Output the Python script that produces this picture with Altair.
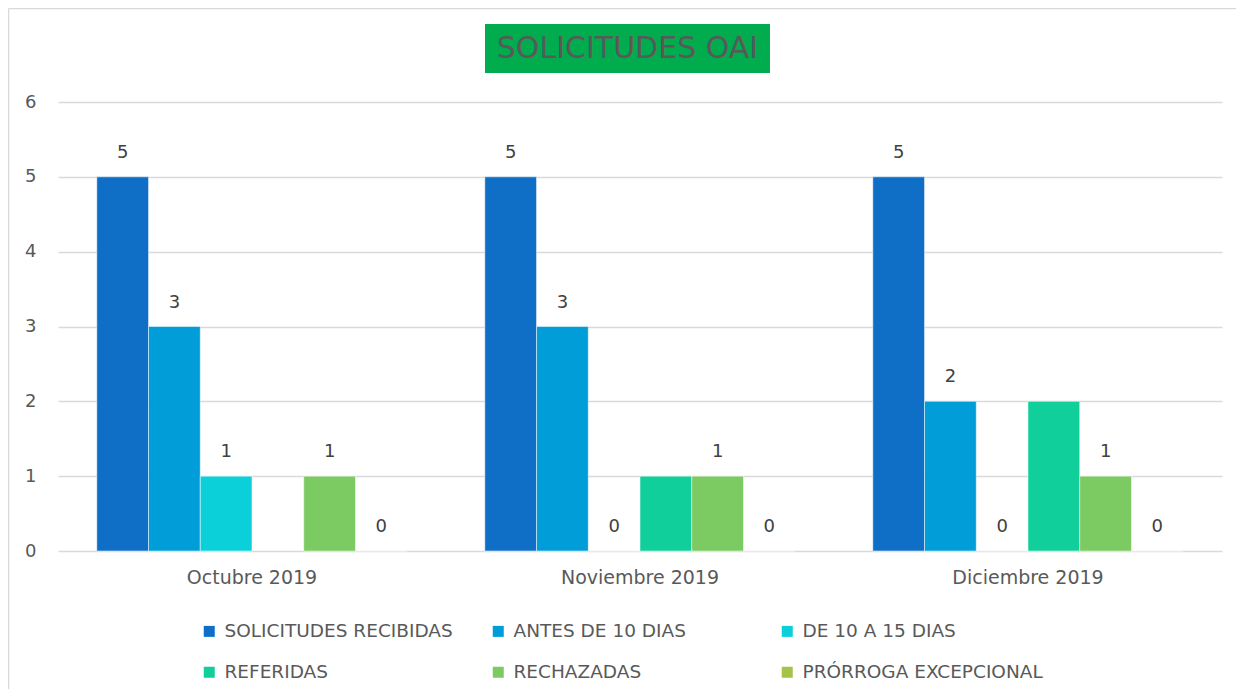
import altair as alt
import pandas as pd

months = ["Octubre 2019", "Noviembre 2019", "Diciembre 2019"]
series = ["SOLICITUDES RECIBIDAS", "ANTES DE 10 DIAS", " DE 10 A  15 DIAS",
          "REFERIDAS", "RECHAZADAS", "PRÓRROGA EXCEPCIONAL"]
colors = ["#0F6FC6", "#009DD9", "#0BD0D9", "#10CF9B", "#7CCA62", "#A5C249"]
solicitudes = [5, 5, 5]
antes10 = [3, 3, 2]
de10a15 = [1, 0, 0]
referidas = [None, 1, 2]
rechazadas = [1, 1, 1]
prorroga = [0, 0, 0]
labeled = [True, True, True, False, True, True]

vals = [solicitudes, antes10, de10a15, referidas, rechazadas, prorroga]
rows = []
for si, s in enumerate(series):
    for mi, m in enumerate(months):
        rows.append({"mes": m, "serie": s, "valor": vals[si][mi], "lab": labeled[si]})
df = pd.DataFrame(rows)

FONT = "DejaVu Sans"
GRAY = "#595959"

x = alt.X("mes:N", sort=months, title=None,
          scale=alt.Scale(paddingInner=0.2, paddingOuter=0.1),
          axis=alt.Axis(labelAngle=0, domain=False, ticks=False, labelFontSize=19,
                        labelColor=GRAY, labelFont=FONT, labelPadding=17))
xo = alt.XOffset("serie:N", sort=series, scale=alt.Scale(domain=series, paddingInner=0, paddingOuter=0))
y = alt.Y("valor:Q", title=None,
          scale=alt.Scale(domain=[0, 6]),
          axis=alt.Axis(values=[0, 1, 2, 3, 4, 5, 6], domain=False, ticks=False,
                        labelFontSize=18, labelColor=GRAY, labelFont=FONT, labelPadding=22,
                        gridColor="#d9d9d9", gridWidth=1.5))

bars = alt.Chart(df).mark_bar(stroke="white", strokeWidth=0.5).encode(
    x=x, xOffset=xo, y=y,
    color=alt.Color("serie:N", sort=series,
                    scale=alt.Scale(domain=series, range=colors),
                    legend=alt.Legend(title=None, orient="none", legendX=142, legendY=520,
                                      columns=3, gridAlign="all", columnPadding=24,
                                      rowPadding=22, symbolType="square", symbolSize=121,
                                      symbolStrokeWidth=0, labelFontSize=18.5, labelColor=GRAY,
                                      labelFont=FONT, labelOffset=6, labelLimit=400,
                                      direction="horizontal"))
).transform_filter("datum.valor != null")

texts = alt.Chart(df).mark_text(dy=-24, fontSize=18, color="#404040", font=FONT).encode(
    x=x, xOffset=xo, y=y, text=alt.Text("valor:Q")
).transform_filter("datum.lab && datum.valor != null")

one = pd.DataFrame({"a": [0]})
border_top = alt.Chart(one).mark_rule(color="#d9d9d9", strokeWidth=1.5).encode(
    x=alt.value(-49.5), x2=alt.value(1300), y=alt.value(-93.5))
border_left = alt.Chart(one).mark_rule(color="#d9d9d9", strokeWidth=1.5).encode(
    x=alt.value(-49.5), y=alt.value(-93.5), y2=alt.value(650))

tbox = alt.Chart(one).mark_rect(fill="#00AC4E").encode(
    x=alt.value(427), x2=alt.value(712), y=alt.value(-78), y2=alt.value(-29))
ttext = alt.Chart(pd.DataFrame({"t": ["SOLICITUDES OAI"]})).mark_text(
    fontSize=30, color=GRAY, font=FONT, baseline="middle", align="center").encode(
    x=alt.value(569.5), y=alt.value(-53), text="t:N")

chart = alt.layer(border_top, border_left, bars, texts, tbox, ttext).properties(
    width=1164, height=449,
    autosize=alt.AutoSizeParams(type="none"),
    padding={"left": 50, "top": 94, "right": 14, "bottom": 138},
    background="white"
).configure_view(stroke=None)

chart.save("out.html", embed_options={"renderer": "svg", "actions": False})
